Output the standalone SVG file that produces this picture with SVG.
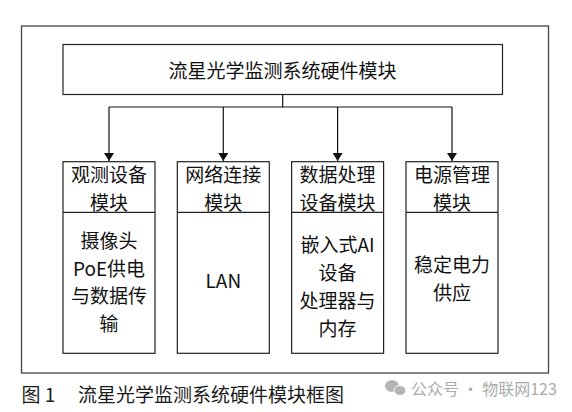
<svg xmlns="http://www.w3.org/2000/svg" width="572" height="412" viewBox="0 0 572 412">
<defs>
<style>
.box{fill:#fff;stroke:#222;stroke-width:1.2}
.frame{fill:#fff;stroke:#444;stroke-width:1.3}
.t{font-family:"Noto Sans CJK SC","Microsoft YaHei",sans-serif;font-size:19px;fill:#111;text-anchor:middle}
.cap{font-family:"Noto Sans CJK SC",sans-serif;font-size:19px;fill:#1a1a1a}
.wm{font-family:"Noto Sans CJK SC",sans-serif;font-size:16px;fill:#ababab}
.conn{fill:none;stroke:#111;stroke-width:1.2}
</style>
<marker id="arr" markerWidth="8" markerHeight="10" refX="8" refY="5" orient="auto" markerUnits="userSpaceOnUse" viewBox="0 0 8 10">
<path d="M0,0 L8,5 L0,10 z" fill="#111"/>
</marker>
</defs>
<rect width="572" height="412" fill="#fff"/>
<rect id="frame" class="frame" x="21.5" y="26" width="527" height="347"/>
<g id="title">
<rect class="box" x="63" y="44.5" width="439.5" height="50"/>
<text class="t" x="282.5" y="78">流星光学监测系统硬件模块</text>
</g>
<g id="connectors">
<path class="conn" d="M282.7,94.5 V107 M109,107 H452"/>
<path class="conn" d="M109,107 V161" marker-end="url(#arr)"/>
<path class="conn" d="M223.3,107 V161" marker-end="url(#arr)"/>
<path class="conn" d="M337.6,107 V161" marker-end="url(#arr)"/>
<path class="conn" d="M452,107 V161" marker-end="url(#arr)"/>
</g>
<g id="obs">
<rect class="box" x="63" y="161.7" width="92" height="191.6"/>
<line class="box" x1="63" y1="212.3" x2="155" y2="212.3"/>
<text class="t" x="109" y="182">观测设备</text>
<text class="t" x="109" y="210">模块</text>
<text class="t" x="109" y="248">摄像头</text>
<text class="t" x="109" y="276">PoE供电</text>
<text class="t" x="109" y="303">与数据传</text>
<text class="t" x="109" y="331">输</text>
</g>
<g id="net">
<rect class="box" x="177.3" y="161.7" width="92" height="191.6"/>
<line class="box" x1="177.3" y1="212.3" x2="269.3" y2="212.3"/>
<text class="t" x="223.3" y="182">网络连接</text>
<text class="t" x="223.3" y="210">模块</text>
<text class="t" x="223.3" y="288">LAN</text>
</g>
<g id="proc">
<rect class="box" x="291.6" y="161.7" width="92" height="191.6"/>
<line class="box" x1="291.6" y1="212.3" x2="383.6" y2="212.3"/>
<text class="t" x="337.6" y="182">数据处理</text>
<text class="t" x="337.6" y="210">设备模块</text>
<text class="t" x="337.6" y="252">嵌入式AI</text>
<text class="t" x="337.6" y="280">设备</text>
<text class="t" x="337.6" y="308">处理器与</text>
<text class="t" x="337.6" y="336">内存</text>
</g>
<g id="power">
<rect class="box" x="406" y="161.7" width="92" height="191.6"/>
<line class="box" x1="406" y1="212.3" x2="498" y2="212.3"/>
<text class="t" x="452" y="182">电源管理</text>
<text class="t" x="452" y="210">模块</text>
<text class="t" x="452" y="272">稳定电力</text>
<text class="t" x="452" y="300">供应</text>
</g>
<g id="caption">
<text class="cap" x="21.5" y="402">图 1</text>
<text class="cap" x="78" y="402">流星光学监测系统硬件模块框图</text>
</g>
<g id="watermark">
<ellipse cx="392" cy="386" rx="7" ry="6" fill="#b5b5b5"/>
<ellipse cx="400" cy="390.5" rx="6" ry="5" fill="#b5b5b5" stroke="#fff" stroke-width="1"/>
<text class="wm" x="411" y="395">公众号 · 物联网123</text>
</g>
</svg>
